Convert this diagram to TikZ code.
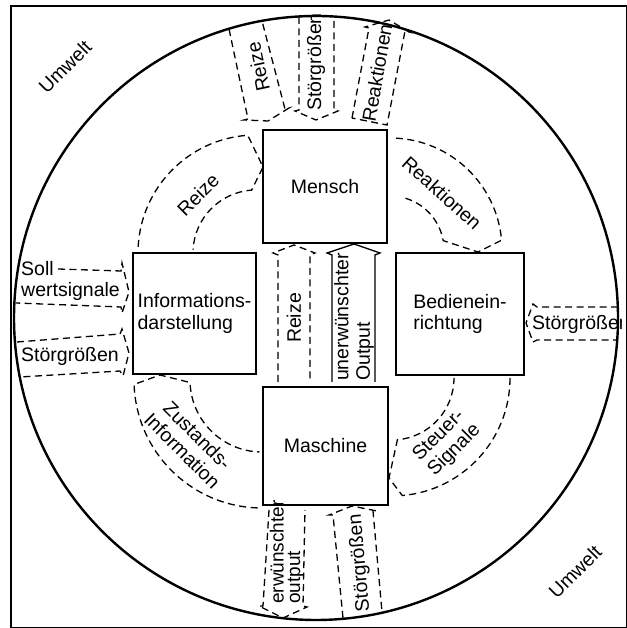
\documentclass[tikz,border=0pt]{standalone}
\usepackage{fontspec}
\setmainfont{Liberation Sans}
\usepackage{tikz}

\begin{document}
\begin{tikzpicture}[x=1pt, y=1pt,
  every node/.style={font=\fontsize{19.5}{21.5}\selectfont, inner sep=0pt},
  kasten/.style={draw, line width=2pt, align=left},
  gestrichelt/.style={line width=1.3pt, dash pattern=on 7pt off 4.5pt},
  pfeil/.style={line width=1.3pt}]

\useasboundingbox (0,0) rectangle (626,628);

% Rahmen und Umwelt
\draw[line width=2.2pt] (11,0) rectangle (627,622);
\draw[line width=2.4pt] (316,310) circle[radius=302pt];
\node[rotate=45] (umwelt1) at (65,561) {Umwelt};
\node[rotate=45] (umwelt2) at (575,56) {Umwelt};

% Kaesten
\node[kasten, minimum width=124pt, minimum height=113pt] (mensch) at (325,441.5) {Mensch};
\node[kasten, minimum width=125pt, minimum height=118pt] (maschine) at (325.5,182) {Maschine};
\node[kasten, minimum width=123pt, minimum height=121pt] (info) at (194.5,314.5) {Informations-\\darstellung};
\node[kasten, minimum width=128pt, minimum height=122pt] (bedien) at (460,314) {Bedienein-\\richtung};

% Mitte: Maschine -> Mensch
\draw[gestrichelt] (278,246) -- (278,373) -- (273,375) -- (294,383) -- (315,375) -- (310,373) -- (310,246);
\node[rotate=90] (reizeM) at (294,310) {Reize};
\draw[pfeil] (332,246) -- (332,373) -- (327,375) -- (354,384) -- (380,375) -- (375,373) -- (375,246);
\node[rotate=90, align=left] (output) at (354,311) {unerwünschter\\Output};

% oben: Umwelt <-> Mensch
\draw[gestrichelt] (229,599) -- (248,509) -- (244,508) -- (268,507) -- (289,520) -- (285,519) -- (262,607);
\node[rotate=102] (reizeO) at (258,561) {Reize};
\draw[gestrichelt] (299,611) -- (299,518) -- (295,517) -- (316,508) -- (338,517) -- (334,518) -- (334,611);
\node[rotate=90] (stoerO) at (316,566) {Störgrößen};
\draw[gestrichelt] (352,510) -- (369,600) -- (365,601) -- (389,608) -- (409,596) -- (405,597) -- (387,503) -- cycle;
\node[rotate=80] (reaktO) at (377,555) {Reaktionen};

% links: Umwelt -> Informationsdarstellung
\draw[gestrichelt] (58,359) -- (121,357) -- (122,365) -- (129,336) -- (122,315) -- (121,321) -- (16,325);
\node[align=left, anchor=west] (soll) at (21,347) {Soll\\wertsignale};
\draw[gestrichelt] (17,286) -- (120,294) -- (122,299) -- (129,275) -- (123,252) -- (120,257) -- (20,251);
\node (stoerL) at (70,272) {Störgrößen};

% rechts: Umwelt -> Bedieneinrichtung
\draw[gestrichelt] (618,321) -- (537,321) -- (533,324) -- (526,305) -- (533,286) -- (537,288) -- (617,288);
\begin{scope}
\clip (11,0) rectangle (621,622);
\node[anchor=west] (stoerR) at (532,304) {Störgrößen};
\end{scope}

% unten: Maschine <-> Umwelt
\draw[gestrichelt] (269,118) -- (263,22) -- (259,22) -- (283,10) -- (307,21) -- (303,22) -- (305,118);
\node[rotate=90, align=left, font=\fontsize{19}{16.5}\selectfont] (erw) at (287,76) {erwünschter\\output};
\draw[gestrichelt] (343,10) -- (333,113) -- (329,113) -- (352,122) -- (377,117) -- (373,117) -- (382,16);
\node[rotate=95] (stoerU) at (360,65) {Störgrößen};

% Reize: Informationsdarstellung -> Mensch
\coordinate (kRe) at (256,375);
\coordinate (spRe) at (263,461);
\draw[gestrichelt] ([shift={(177:118)}]kRe) arc[start angle=177, end angle=94, radius=118pt] -- (spRe)
  -- ([shift={(94:63)}]kRe) arc[start angle=94, end angle=177, radius=63pt];
\node[rotate=45] (reizeK) at (198,433) {Reize};

% Reaktionen: Mensch -> Bedieneinrichtung
\coordinate (kRk) at (390,378);
\coordinate (spRk) at (478,376);
\draw[gestrichelt] ([shift={(87:112)}]kRk) arc[start angle=87, end angle=5, radius=112pt] -- (spRk)
  -- ([shift={(10:54)}]kRk) arc[start angle=10, end angle=77, radius=54pt];
\node[rotate=-42] (reaktK) at (442,435) {Reaktionen};

% Zustandsinformation: Maschine -> Informationsdarstellung
\coordinate (kZu) at (262,248);
\coordinate (spZu) at (160,253);
\draw[gestrichelt] ([shift={(268:128)}]kZu) arc[start angle=268, end angle=182, radius=128pt] -- (spZu)
  -- ([shift={(182:72)}]kZu) arc[start angle=182, end angle=268, radius=72pt];
\node[rotate=-45, align=center] (zustand) at (190,185) {Zustands-\\Information};

% Steuersignale: Bedieneinrichtung -> Maschine
\coordinate (kSt) at (392,250);
\coordinate (spSt) at (389,150);
\draw[gestrichelt] ([shift={(0:118)}]kSt) arc[start angle=0, end angle=-85, radius=118pt] -- (spSt)
  -- ([shift={(-85:62)}]kSt) arc[start angle=-85, end angle=0, radius=62pt];
\node[rotate=45, align=left] (steuer) at (447,185) {Steuer-\\Signale};

\end{tikzpicture}
\end{document}
